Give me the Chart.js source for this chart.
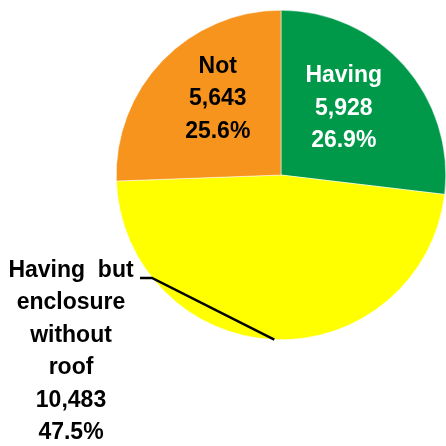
<!DOCTYPE html>
<html>
<head>
<meta charset="utf-8">
<script src="https://cdn.jsdelivr.net/npm/chart.js@4"></script>
<style>
  html, body { margin: 0; padding: 0; background: #fff; }
  #wrap { width: 446px; height: 446px; }
</style>
</head>
<body>
<div id="wrap"><canvas id="myChart" width="446" height="446"></canvas></div>
<script>
const categories = ['Having', 'Having but enclosure without roof', 'Not'];
const counts = [5928, 10483, 5643];
const percents = ['26.9%', '47.5%', '25.6%'];
// label text split into lines as in the picture
const labelLines = [
    ['Having'],
    ['Having  but', 'enclosure', 'without', 'roof'],
    ['Not'],
];
const colors = ['#00994A', '#FFFF00', '#F7941E'];
const textColors = ['#ffffff', '#000000', '#000000'];

const FONT = 'bold 23px "Liberation Sans", Arial, sans-serif';
const LH = 32.5;

function drawBlock(ctx, lines, cx, cy, color) {
    ctx.fillStyle = color;
    const n = lines.length;
    lines.forEach((t, i) => {
        ctx.fillText(t, cx, cy + 8 + (i - (n - 1) / 2) * LH);
    });
}

const labelPlugin = {
    id: 'sliceLabels',
    afterDatasetsDraw(chart) {
        const ctx = chart.ctx;
        const arcs = chart.getDatasetMeta(0).data;
        ctx.save();
        ctx.font = FONT;
        ctx.textAlign = 'center';
        ctx.textBaseline = 'alphabetic';
        arcs.forEach((arc, i) => {
            const p = arc.getProps(['x', 'y', 'startAngle', 'endAngle', 'outerRadius'], true);
            const mid = (p.startAngle + p.endAngle) / 2;
            const lines = labelLines[i].concat([counts[i].toLocaleString('en-US'), percents[i]]);
            if (i === 1) {
                // outside label with leader line
                const ex = p.x + Math.cos(mid) * p.outerRadius;
                const ey = p.y + Math.sin(mid) * p.outerRadius;
                ctx.strokeStyle = '#000';
                ctx.lineWidth = 2.5;
                ctx.beginPath();
                ctx.moveTo(ex, ey);
                ctx.lineTo(152, 278);
                ctx.lineTo(140, 278);
                ctx.stroke();
                drawBlock(ctx, lines, 71, 350, textColors[i]);
            } else {
                const r = p.outerRadius * 0.55;
                let cx = p.x + Math.cos(mid) * r;
                let cy = p.y + Math.sin(mid) * r;
                if (i === 0) { cx -= 5; cy -= 8; }
                if (i === 2) { cx += 2; cy -= 15; }
                drawBlock(ctx, lines, cx, cy, textColors[i]);
            }
        });
        ctx.restore();
    }
};

const data = {
    labels: categories,
    datasets: [{
        data: counts,
        backgroundColor: colors,
        borderColor: '#ffffff',
        borderWidth: 0.5,
    }]
};

const config = {
    type: 'pie',
    data: data,
    options: {
        responsive: false,
        animation: false,
        layout: {
            padding: { left: 116, right: 0, top: 9, bottom: 105 }
        },
        plugins: {
            legend: { display: false },
            tooltip: { enabled: false },
        },
    },
    plugins: [labelPlugin],
};
const myChart = new Chart(document.getElementById('myChart'), config);
</script>
</body>
</html>
